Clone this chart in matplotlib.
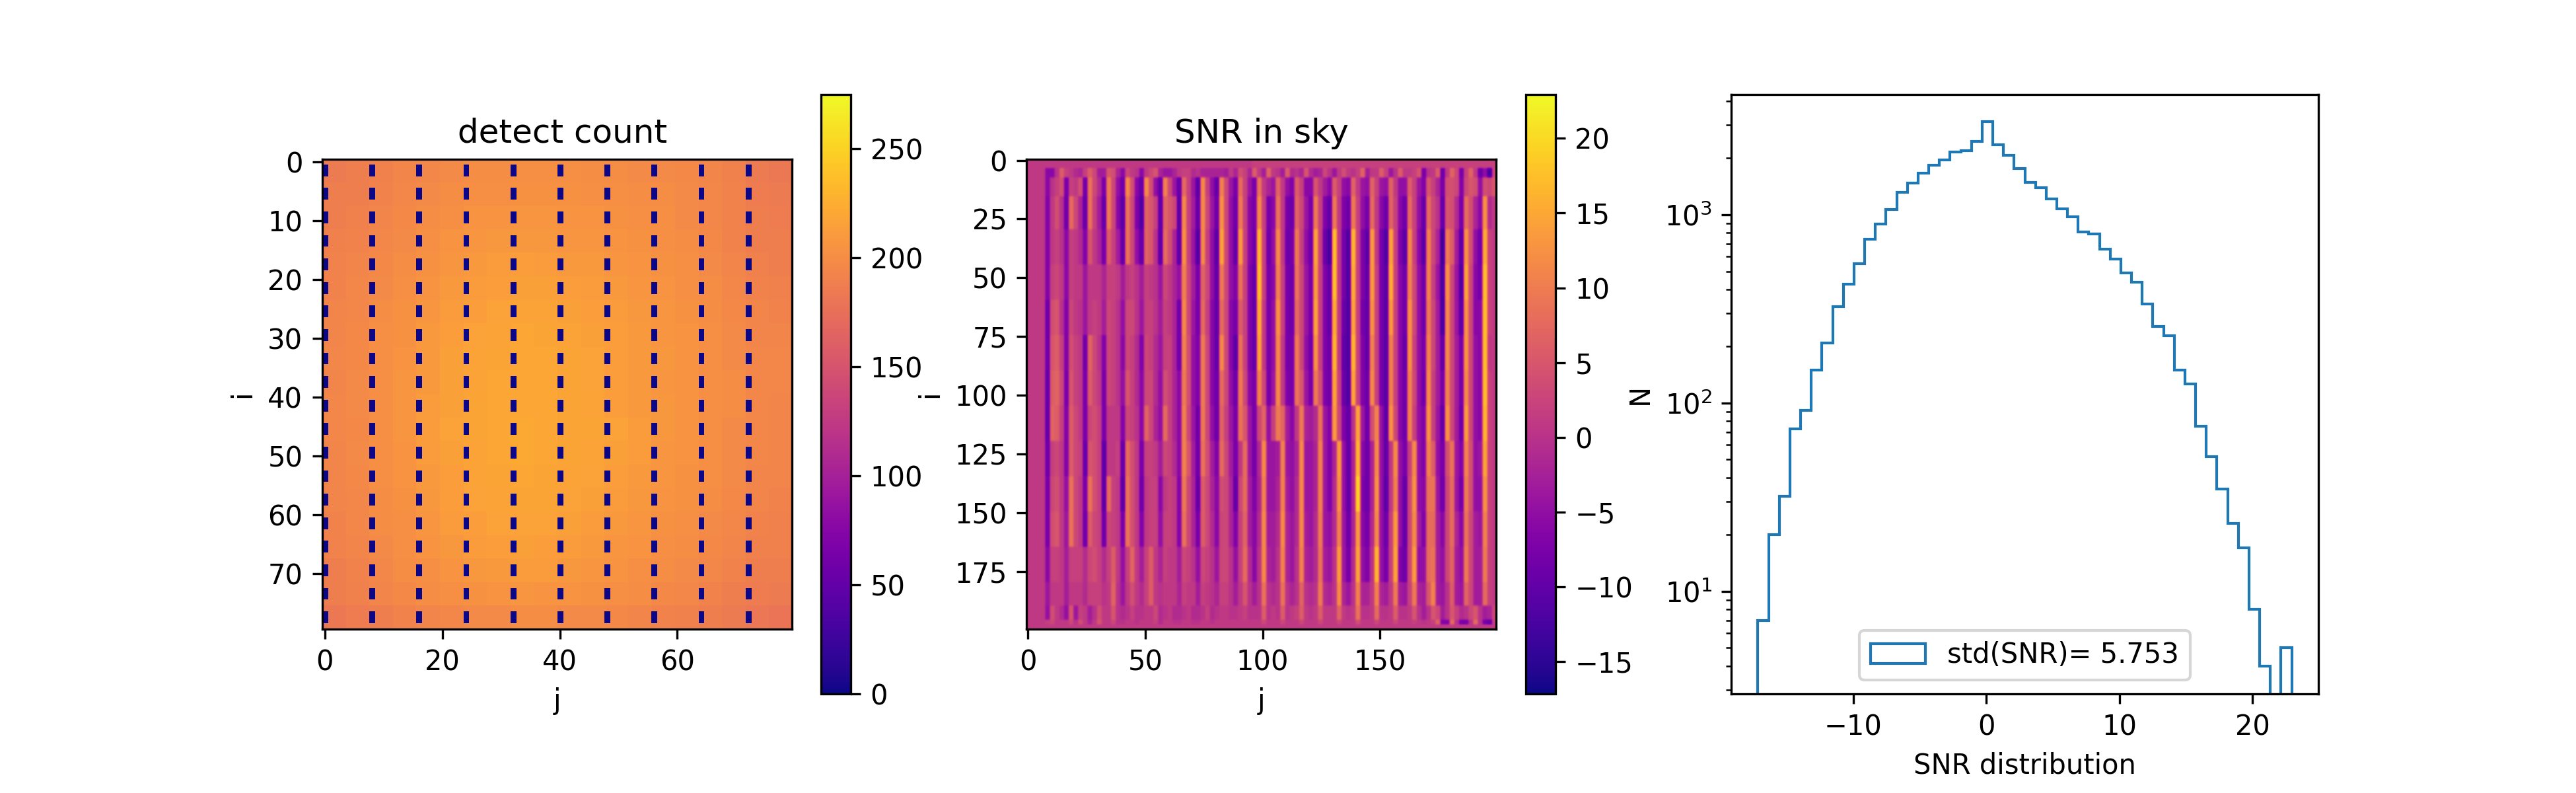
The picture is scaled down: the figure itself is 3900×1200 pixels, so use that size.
import numpy as np
import matplotlib
matplotlib.use("Agg")
import matplotlib.pyplot as plt

# detect count, read by eye as blocks of 4x4 cells
detect_blocks = [
    [185,188,191,194,195,198,200,200,201,201,201,200,200,198,198,197,194,191,185,183],
    [188,189,192,195,198,200,201,203,204,204,204,203,203,200,200,198,195,192,186,185],
    [189,191,194,197,200,203,206,206,207,207,206,206,204,203,201,198,195,192,188,186],
    [191,192,195,198,201,206,207,209,209,209,207,207,206,204,203,200,197,192,189,188],
    [192,194,197,200,204,207,210,212,213,212,210,210,207,206,204,201,198,194,191,189],
    [192,195,198,203,206,210,212,213,215,215,213,212,210,207,206,203,200,195,192,191],
    [194,195,200,204,207,212,213,216,218,218,215,213,212,209,207,204,200,197,194,192],
    [194,197,201,204,210,213,216,218,221,219,218,215,213,210,207,206,201,198,194,194],
    [195,197,201,206,210,215,218,219,221,221,219,216,213,210,209,206,203,198,195,195],
    [194,198,201,207,210,215,218,221,221,221,219,216,213,210,207,206,203,200,195,195],
    [195,198,203,207,212,215,219,221,221,221,219,218,213,210,209,206,203,200,195,194],
    [195,197,201,207,212,216,219,221,222,221,219,219,216,212,209,206,203,198,195,194],
    [194,198,201,206,212,215,218,221,222,221,219,218,215,212,207,206,201,198,195,194],
    [194,197,201,206,210,213,218,219,221,219,218,216,213,210,207,204,201,198,194,194],
    [194,195,200,204,209,213,216,218,219,219,216,215,212,209,206,204,200,197,194,192],
    [192,195,200,203,207,212,213,216,216,216,215,212,210,207,204,201,198,195,192,191],
    [192,194,198,201,206,209,212,213,215,213,212,210,207,206,203,200,197,194,191,191],
    [189,192,195,200,203,206,209,210,212,212,209,207,206,203,200,198,195,192,189,188],
    [188,191,194,197,200,203,204,206,207,206,206,204,203,200,197,195,192,189,186,185],
    [183,186,189,192,194,195,198,198,200,200,198,198,197,194,192,191,188,185,182,180],
]
dead_cols = [0, 8, 16, 24, 32, 40, 48, 56, 64, 72]
dead_rows = [1, 2, 5, 6, 9, 10, 13, 14, 17, 18, 21, 22, 25, 26, 29, 30, 33, 34, 37, 38,
             41, 42, 45, 46, 49, 50, 53, 54, 57, 58, 61, 62, 65, 66, 69, 70, 73, 74, 77, 78]
detect_max = 275

# SNR map, read by eye: each row is a band of rows, each value covers 2 columns
snr_band_heights = [4, 4, 8, 14, 15, 15, 15, 15, 15, 15, 15, 15, 15, 15, 10, 6, 2, 2]
snr_bands = [
    [1,1,1,1, 1,1,1,1, 1,1,1,1, 1,1,1,1, 1,1,1,1, 1,1,1,1, 1,1,1,1, 1,1,1,1, 1,1,1,1, 1,1,1,1, 1,1,1,1, 1,1,1,1, 2,2,2,2,
     2,2,2,2, 2,2,2,2, 2,2,2,2, 2,2,2,2, 2,2,2,2, 2,2,2,2, 2,2,2,2, 2,2,2,2, 2,2,2,2, 2,2,2,2, 2,2,2,2, 2,2,2,2],
    [1,1,1,1, -6,-6,0,6, 2,1,-1,-2, 2,6,3,-3, -3,5,4,-2, -6,3,1,0, -6,1,3,5, -2,-4,-4,-2, 1,2,2,-1, 0,-2,-2,-2, -2,-2,-3,1, -2,4,2,-2, 6,1,-3,7,
     1,0,-3,6, -1,0,-2,5, -1,-3,-2,3, 0,-4,1,4, 1,0,2,7, -3,1,1,6, 2,-4,0,6, 1,1,2,5, -8,0,1,6, -9,1,7,3, -8,2,7,1, -9,-5,-13,3],
    [1,1,1,1, -6,0,2,4, -8,2,1,4, -9,9,3,-1, -8,10,3,-5, -9,12,4,-6, -10,12,4,-5, -10,11,3,-4, -10,8,2,-4, -11,12,2,-5, -10,11,3,-4, -8,8,2,-4, -8,9,1,-2,
     -4,7,1,-5, -7,6,2,-6, -6,5,1,-3, -6,6,2,-5, -6,7,1,-4, -5,7,2,-4, -5,7,1,-5, -5,6,2,-4, -7,5,2,-2, -8,4,4,3, -7,3,5,4, -5,4,3,5],
    [1,1,1,1, -7,1,4,0, -9,8,3,-2, -10,9,2,-3, -10,10,3,-6, -11,9,3,-7, -12,7,5,2, -11,7,5,3, -11,12,2,-3, -10,12,3,-4, -9,13,3,-5, -9,10,2,-6, -8,12,2,-8,
     -6,9,1,-8, -9,7,3,-4, -8,10,2,-7, -10,10,1,-7, -9,10,2,-5, -8,8,1,-6, -9,7,2,-6, -9,8,2,-5, -10,8,3,0, -10,5,4,-1, -8,8,4,-2, -6,13,-1,1],
    [1,1,1,1, -7,1,2,0, -6,2,1,-1, -7,5,1,-2, -8,6,2,-3, -10,9,3,-5, -10,7,5,0, -11,8,4,-2, -11,13,2,-4, -12,12,2,-5, -11,15,3,-5, -10,14,2,-6, -9,17,2,-9,
     -5,12,1,-9, -8,10,2,-5, -9,15,2,-9, -13,18,1,-8, -12,17,2,-7, -11,14,1,-8, -12,15,2,-7, -11,12,2,-6, -11,11,3,-2, -14,10,6,-3, -11,13,4,-5, -9,16,2,1],
    [1,1,1,1, -7,2,3,1, -6,2,1,1, -4,1,1,1, -2,2,2,1, -3,1,2,0, -3,2,1,0, -4,3,1,-2, -5,11,3,-3, -8,7,3,-5, -10,10,3,-5, -7,9,2,-7, -10,18,2,-8,
     -6,11,2,-8, -9,9,3,-4, -8,14,2,-7, -10,18,1,-8, -12,16,2,-7, -10,14,2,-8, -11,16,2,-6, -9,11,3,-5, -9,11,2,-4, -13,13,3,-4, -12,15,3,-6, -8,18,2,1],
    [1,1,1,1, -9,4,5,0, -7,3,1,0, -4,1,2,1, -3,3,2,0, -5,3,3,0, -4,2,2,0, -3,2,1,-2, -9,12,3,-4, -8,8,2,-6, -10,8,3,-6, -8,6,2,-7, -10,16,1,-8,
     -5,13,2,-8, -9,8,3,-4, -8,15,2,-7, -10,16,1,-9, -12,15,2,-8, -10,13,2,-8, -11,14,2,-6, -9,13,3,-5, -9,10,3,-3, -13,12,3,-4, -11,13,3,-6, -6,18,2,1],
    [1,1,1,1, -9,5,6,2, -7,4,2,1, -9,7,3,0, -7,3,2,0, -6,3,2,-1, -7,3,2,-1, -4,2,2,-2, -9,11,4,-5, -7,10,3,-6, -10,12,3,-6, -11,9,2,-7, -10,15,1,-8,
     -5,12,1,-8, -8,10,3,-5, -9,13,2,-7, -9,17,1,-10, -12,17,2,-7, -10,11,2,-8, -11,11,2,-6, -10,13,2,-5, -8,11,3,-3, -10,12,3,-3, -8,13,3,-5, -6,18,1,1],
    [1,1,1,1, -10,6,7,3, -8,5,2,1, -8,6,3,1, -8,3,2,0, -5,5,2,-1, -6,3,3,-1, -5,4,2,-2, -6,10,4,-5, -7,10,3,-6, -9,8,3,-5, -9,10,3,-6, -8,11,3,-8,
     -4,12,1,-7, -8,9,5,-4, -8,10,4,-7, -9,15,2,-9, -12,15,2,-7, -9,12,2,-8, -11,11,2,-6, -9,11,3,-5, -9,12,2,-3, -8,11,3,-3, -8,12,3,-5, -6,18,2,1],
    [1,1,1,1, -10,7,6,2, -7,6,3,1, -8,3,4,2, -8,1,1,1, -7,3,2,0, -6,7,3,-2, -5,8,2,-2, -6,11,3,-4, -9,10,3,-5, -9,7,2,-4, -8,9,5,-4, -8,3,7,-5,
     2,10,7,-3, -6,1,10,-2, -3,-1,9,-4, -7,14,3,-7, -10,0,15,-4, -9,4,11,-5, -11,13,3,-6, -9,11,2,-5, -7,13,2,-4, -10,13,3,-3, -9,14,3,-5, -6,17,2,1],
    [1,1,1,1, -9,2,3,1, -7,6,3,2, -10,5,4,2, -11,1,1,2, -10,8,4,1, -8,2,2,1, -3,3,2,-1, -6,11,5,-3, -9,9,4,-3, -7,8,3,-3, -8,1,8,-4, -8,-1,12,-4,
     -4,-3,11,-4, -5,-2,12,-4, -4,-2,11,-4, -7,-2,14,-5, -10,-2,17,-6, -9,-2,12,-5, -10,1,12,-5, -8,2,12,-5, -7,11,6,-5, -8,4,9,-4, -7,11,4,-5, -4,15,2,1],
    [1,1,1,1, -8,3,4,1, -5,9,3,1, -8,9,4,2, -11,8,2,1, -11,9,4,1, -9,1,2,2, -6,1,2,1, -7,10,3,-2, -10,6,3,-2, -6,4,3,-2, -10,3,8,-3, -7,-2,11,-4,
     -4,-2,11,-3, -5,-1,12,-4, -4,-2,11,-4, -7,-1,13,-5, -10,-2,20,-7, -9,-2,13,-5, -11,1,11,-5, -10,3,13,-5, -6,9,9,-4, -9,3,8,-4, -8,10,4,-5, -5,13,2,1],
    [1,1,1,1, -8,4,5,1, -4,9,3,1, -9,6,3,2, -9,3,2,1, -8,9,4,1, -7,1,2,2, -5,2,2,1, -7,9,3,-2, -8,6,3,-1, -6,3,3,-2, -7,2,7,-3, -6,-1,12,-3,
     -3,-1,12,-2, -4,-1,12,-3, -4,-1,10,-4, -5,-1,11,-4, -9,-2,14,-6, -8,-1,12,-5, -9,2,14,-5, -10,3,12,-3, -7,8,8,-3, -6,3,8,-2, -6,9,3,-3, -4,11,2,1],
    [1,1,1,1, -6,2,2,1, -3,2,2,2, -1,3,4,2, -1,2,6,1, -5,2,7,1, -3,2,6,1, -2,2,1,1, -3,3,2,0, -5,3,2,0, -4,3,3,0, -5,2,8,-1, -6,0,12,-2,
     -3,0,11,-2, -4,0,11,-2, -3,-1,9,-3, -4,0,14,-4, -8,-1,15,-5, -7,0,17,-5, -8,2,15,-7, -9,3,14,-5, -5,8,9,-3, -5,3,7,-3, -5,10,3,-3, -3,10,2,1],
    [1,1,1,1, -4,1,1,1, -3,1,1,1, -1,2,2,2, 0,1,7,0, -4,1,4,1, -1,2,6,1, 0,1,1,1, -2,2,1,1, -3,2,1,0, -2,2,2,0, -3,1,5,0, -3,0,9,0,
     -1,0,9,0, -2,0,7,0, -1,0,10,-1, -2,0,12,-2, -4,0,11,-2, -2,1,11,-2, -3,1,10,-3, -4,2,10,-2, -3,5,11,-3, -4,0,6,-3, -4,7,3,-3, -3,8,2,1],
    [1,1,1,1, -5,4,1,-1, -5,5,-4,2, 1,-3,0,4, 1,1,5,0, -1,0,2,0, 0,1,1,3, -1,0,1,-1, -1,0,1,-1, -1,0,2,-1, 0,1,1,0, 0,1,2,0, 0,0,6,0,
     1,0,6,0, 1,2,6,1, 0,1,6,1, 1,1,7,1, 0,1,9,0, 0,1,8,0, 0,1,6,0, 0,1,5,0, -3,0,5,3, -3,0,5,2, -1,0,3,5, 0,-3,-2,3],
    [1,1,1,1, 2,3,1,1, 1,3,0,4, 1,-2,1,5, 1,1,3,0, 0,1,1,0, 1,1,1,2, -1,1,1,0, 0,1,1,0, 0,1,1,0, 1,1,1,1, 1,1,1,1, 1,1,3,1,
     1,1,3,1, 1,1,3,1, 1,1,3,1, 1,1,3,1, 1,1,4,1, 1,1,3,1, 1,1,3,1, 1,1,2,1, 0,1,2,7, -7,-7,8,0, -8,-8,0,8, 0,-8,-10,2],
    [1,1,1,1, 1,1,1,1, 1,1,1,1, 1,1,1,1, 1,1,1,1, 1,1,1,1, 1,1,1,1, 1,1,1,1, 1,1,1,1, 1,1,1,1, 1,1,1,1, 1,1,1,1, 1,1,1,1,
     1,1,1,1, 1,1,1,1, 1,1,1,1, 1,1,1,1, 1,1,1,1, 1,1,1,1, 1,1,1,1, 1,1,1,1, 1,1,1,1, 1,1,1,1, 1,1,1,1, 1,1,1,1],
]
snr_min = -17.15
snr_max = 22.94

# histogram of SNR, counts in 50 bins
snr_counts = [7, 20, 32, 73, 91, 150, 208, 324, 427, 551,
              738, 894, 1066, 1309, 1466, 1656, 1825, 1954, 2149, 2178,
              2438, 3112, 2355, 2063, 1755, 1479, 1395, 1210, 1076, 975,
              810, 791, 653, 583, 492, 437, 334, 254, 228, 149,
              126, 75, 52, 35, 23, 17, 8, 4, 2, 5]

detect = np.repeat(np.repeat(np.array(detect_blocks), 4, axis=0), 4, axis=1)
detect[np.ix_(dead_rows, dead_cols)] = 0
snr = np.repeat(np.array(snr_bands), snr_band_heights, axis=0)
snr = np.repeat(snr, 2, axis=1)
edges = np.linspace(snr_min, snr_max, len(snr_counts) + 1)

plt.figure(figsize=(13, 4))
plt.subplots_adjust(top=0.881, bottom=0.125)

plt.subplot(1, 3, 1)
plt.title(" detect count")
plt.imshow(detect, cmap="plasma", vmin=0, vmax=detect_max)
plt.xlabel("j")
plt.ylabel("i")
plt.colorbar()

plt.subplot(1, 3, 2)
plt.title("SNR in sky")
plt.imshow(snr, cmap="plasma", vmin=snr_min, vmax=snr_max, interpolation="gaussian")
plt.xlabel("j")
plt.ylabel("i")
plt.colorbar()

plt.subplot(1, 3, 3)
plt.hist(edges[:-1], bins=edges, weights=snr_counts, histtype="step", label="std(SNR)= 5.753")
plt.yscale("log")
plt.ylim(2.85, 4350)
plt.xlabel("SNR distribution")
plt.ylabel("N")
plt.legend(loc="lower center")

plt.savefig("out.png", dpi=300)
